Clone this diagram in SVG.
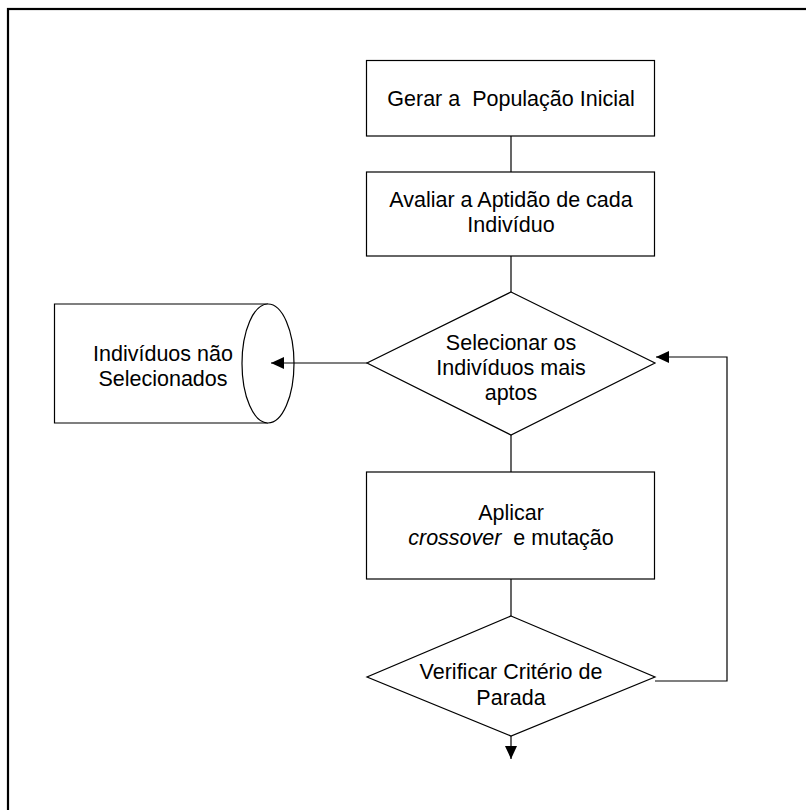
<svg xmlns="http://www.w3.org/2000/svg" width="806" height="810" viewBox="0 0 806 810">
<style>
.s{fill:#fff;stroke:#000;stroke-width:1.2}
.c{fill:none;stroke:#000;stroke-width:1.2}
text{font-family:"Liberation Sans",Arial,sans-serif;font-size:21.5px;fill:#000;text-anchor:middle}
</style>
<defs>
<marker id="ah" markerUnits="userSpaceOnUse" markerWidth="14" markerHeight="12" viewBox="0 0 14 12" refX="13" refY="6" orient="auto">
<path d="M0,0 L13,6 L0,12 Z" fill="#000"/>
</marker>
</defs>
<rect x="8" y="9" width="830" height="830" fill="none" stroke="#000" stroke-width="2.2"/>
<g id="n1">
<rect class="s" x="366.5" y="60.5" width="288" height="75.5"/>
<text x="511" y="106" xml:space="preserve">Gerar a  População Inicial</text>
</g>
<g id="n2">
<rect class="s" x="366.5" y="172" width="288" height="84"/>
<text x="511" y="207">Avaliar a Aptidão de cada</text>
<text x="511" y="232">Indivíduo</text>
</g>
<g id="n3">
<polygon class="s" points="511,292 655,363 511,435 367,363"/>
<text x="511" y="350">Selecionar os</text>
<text x="511" y="375">Indivíduos mais</text>
<text x="511" y="400">aptos</text>
</g>
<g id="n4">
<path class="s" d="M268,304 H54.5 V423 H268"/>
<ellipse class="s" cx="268" cy="363.5" rx="26" ry="59.5"/>
<text x="163" y="361">Indivíduos não</text>
<text x="163" y="386">Selecionados</text>
</g>
<g id="n5">
<rect class="s" x="366.5" y="472" width="288" height="107"/>
<text x="511" y="520">Aplicar</text>
<text x="511" y="545" xml:space="preserve"><tspan font-style="italic">crossover</tspan>  e mutação</text>
</g>
<g id="n6">
<polygon class="s" points="511,616 655,677 511,736 367,677"/>
<text x="511" y="679">Verificar Critério de</text>
<text x="511" y="705">Parada</text>
</g>
<g id="connectors">
<path class="c" d="M511,136 V172"/>
<path class="c" d="M511,256 V292"/>
<path class="c" d="M367,363 H271" marker-end="url(#ah)"/>
<path class="c" d="M511,435 V472"/>
<path class="c" d="M511,579 V616"/>
<path class="c" d="M511,736 V759" marker-end="url(#ah)"/>
<path class="c" d="M655,681 H727 V357 H656" marker-end="url(#ah)"/>
</g>
</svg>
